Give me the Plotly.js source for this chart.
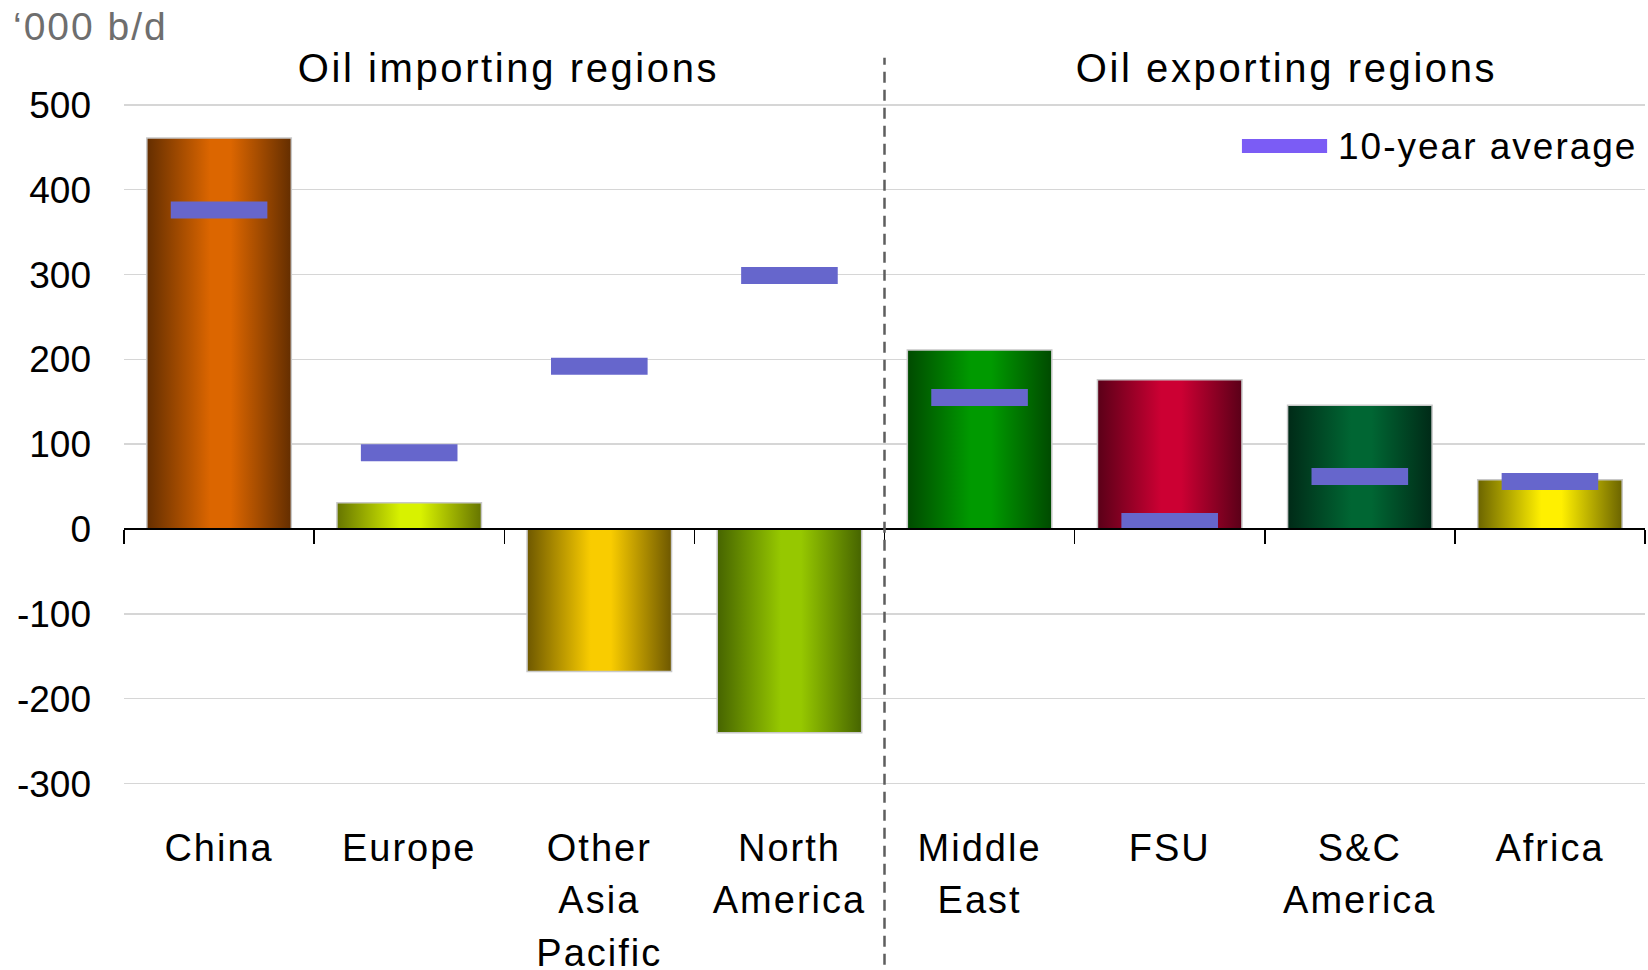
<!DOCTYPE html>
<html>
<head>
<meta charset="utf-8">
<script src="https://cdn.plot.ly/plotly-3.0.1.min.js"></script>
<style>
  html, body { margin: 0; padding: 0; background: #fff; }
  #chart { width: 1648px; height: 970px; }
  .xtick text { letter-spacing: 2px; }
  .annotation-text { letter-spacing: 2px; }
</style>
</head>
<body>
<div id="chart"></div>
<script>
// ---- data ----
const regions = ["China", "Europe", "Other<br>Asia<br>Pacific", "North<br>America",
                 "Middle<br>East", "FSU", "S&C<br>America", "Africa"];
const change2012 = [461, 31, -168, -240, 211, 176, 146, 58];
const tenYearAverage = [376, 90, 192, 299, 155, 9, 62, 56];
const yTicks = [-300, -200, -100, 0, 100, 200, 300, 400, 500];
const groupTitles = ["Oil importing regions", "Oil exporting regions"];
const unitLabel = "\u2018000 b/d";
const legendLabel = "10-year average";

// ---- styles ----
const edgeColors   = ["#642e00", "#667500", "#6e5800", "#466400", "#004a00", "#5a0018", "#002a17", "#6b6400"];
const centerColors = ["#dc6600", "#d8f200", "#f9cc00", "#96c800", "#009a00", "#cc0033", "#006633", "#fff000"];
const FONT = "Liberation Sans, Arial, sans-serif";

const bars = {
  type: "bar",
  x: regions,
  y: change2012,
  width: 0.76,
  marker: { color: centerColors, line: { color: "#c8c8c8", width: 1.5 } },
  hoverinfo: "x+y",
  showlegend: false
};

const avg = {
  type: "scatter",
  mode: "markers",
  x: regions,
  y: tenYearAverage,
  marker: { symbol: "line-ew", size: 69, color: "#6666cc", line: { color: "#6666cc", width: 17 } },
  cliponaxis: false,
  showlegend: false
};

const zeroFrac = 330 / 890;

const layout = {
  width: 1648,
  height: 970,
  margin: { l: 124, r: 3, t: 54, b: 161 },
  paper_bgcolor: "#ffffff",
  plot_bgcolor: "#ffffff",
  showlegend: false,
  font: { family: FONT, size: 37, color: "#000" },
  xaxis: {
    type: "category",
    range: [-0.5, 7.5],
    anchor: "free",
    position: zeroFrac,
    showline: true,
    linecolor: "#000",
    linewidth: 2,
    ticks: "outside",
    tickson: "boundaries",
    ticklen: 14,
    tickwidth: 1.5,
    tickcolor: "#000",
    showgrid: false,
    ticklabelstandoff: 285,
    tickfont: { family: FONT, size: 38, color: "#000" }
  },
  yaxis: {
    range: [-330, 560],
    tickvals: yTicks,
    ticktext: yTicks.map(String),
    showgrid: true,
    gridcolor: "#d6d6d6",
    gridwidth: 1.5,
    zeroline: false,
    showline: false,
    ticks: "",
    ticklabelstandoff: 32,
    tickfont: { family: FONT, size: 37, color: "#000" }
  },
  shapes: [
    { type: "line", xref: "x", yref: "paper", x0: 3.5, x1: 3.5, y0: -0.23, y1: 0.995,
      line: { color: "#5e5e5e", width: 2.5, dash: "11px,7px" } },
    { type: "rect", xref: "paper", yref: "paper", x0: 0.735, x1: 0.791, y0: 0.8689, y1: 0.8874,
      fillcolor: "#7b5cf5", line: { width: 0 } }
  ],
  annotations: [
    { text: unitLabel, xref: "paper", yref: "paper", x: -0.0745, y: 1.037, xanchor: "left", yanchor: "middle",
      showarrow: false, font: { family: FONT, size: 39, color: "#6e6e6e" } },
    { text: groupTitles[0], xref: "paper", yref: "paper", x: 0.2525, y: 0.9815, xanchor: "center", yanchor: "middle",
      showarrow: false, font: { family: FONT, size: 40, color: "#000" } },
    { text: groupTitles[1], xref: "paper", yref: "paper", x: 0.764, y: 0.9815, xanchor: "center", yanchor: "middle",
      showarrow: false, font: { family: FONT, size: 40, color: "#000" } },
    { text: legendLabel, xref: "paper", yref: "paper", x: 0.797, y: 0.878, xanchor: "left", yanchor: "middle",
      showarrow: false, font: { family: FONT, size: 37, color: "#000" } }
  ]
};

Plotly.newPlot("chart", [bars, avg], layout, { displayModeBar: false, staticPlot: true }).then(function (gd) {
  const ns = "http://www.w3.org/2000/svg";
  const svg = gd.querySelector(".main-svg");
  let defs = svg.querySelector("defs");
  if (!defs) { defs = document.createElementNS(ns, "defs"); svg.insertBefore(defs, svg.firstChild); }
  const paths = gd.querySelectorAll(".barlayer .trace.bars .point path");
  paths.forEach(function (p, i) {
    const lg = document.createElementNS(ns, "linearGradient");
    lg.setAttribute("id", "barGrad" + i);
    lg.setAttribute("x1", "0"); lg.setAttribute("y1", "0");
    lg.setAttribute("x2", "1"); lg.setAttribute("y2", "0");
    [[0, edgeColors[i]], [0.44, centerColors[i]], [0.58, centerColors[i]], [1, edgeColors[i]]].forEach(function (s) {
      const st = document.createElementNS(ns, "stop");
      st.setAttribute("offset", s[0]);
      st.setAttribute("stop-color", s[1]);
      lg.appendChild(st);
    });
    defs.appendChild(lg);
    p.style.fill = "url(#barGrad" + i + ")";
  });
  // wider line spacing for multi-line category labels (scale Plotly's 1.3em steps)
  gd.querySelectorAll(".xtick text tspan.line").forEach(function (t) {
    const dy = t.getAttribute("dy");
    if (dy) {
      const v = parseFloat(dy);
      if (!isNaN(v) && v !== 0) t.setAttribute("dy", (v / 1.3 * 1.38).toFixed(3) + "em");
    }
  });
  // title annotations slightly wider tracking (centered, so stays centered)
  gd.querySelectorAll(".annotation-text").forEach(function (t) {
    if (t.textContent.indexOf("regions") >= 0) t.style.letterSpacing = "2.6px";
  });
});
</script>
</body>
</html>
